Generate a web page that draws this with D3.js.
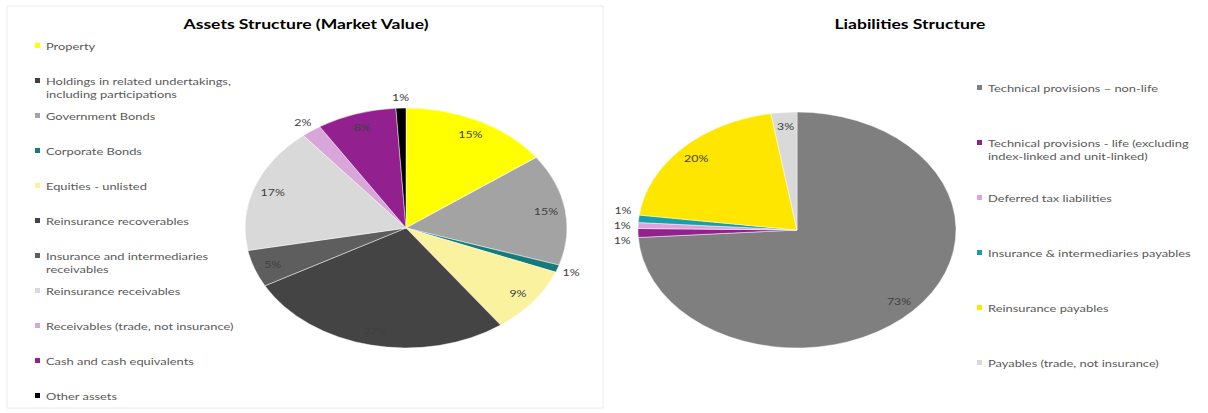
<!DOCTYPE html>
<html>
<head>
<meta charset="utf-8">
<script src="https://cdn.jsdelivr.net/npm/d3@7"></script>
<style>
  html, body { margin: 0; padding: 0; background: #ffffff; }
  svg { display: block; }
</style>
</head>
<body>
<svg id="chart" width="1208" height="413"></svg>
<script>
// ---------- DATA ----------
const assetTitle = "Assets Structure (Market Value)";
const assetCategories = [
  "Property",
  "Holdings in related undertakings,\nincluding participations",
  "Government Bonds",
  "Corporate Bonds",
  "Equities - unlisted",
  "Reinsurance recoverables",
  "Insurance and intermediaries\nreceivables",
  "Reinsurance receivables",
  "Receivables (trade, not insurance)",
  "Cash and cash equivalents",
  "Other assets"
];
const assetValues = [15, 0, 15, 1, 9, 27, 5, 17, 2, 8, 1];
const assetColors = ["#ffff00", "#3f3f3f", "#a3a3a3", "#157a7a", "#fbf2a0", "#444444",
                     "#5e5e5e", "#d9d9d9", "#d8a6d8", "#93208f", "#000000"];

const liabTitle = "Liabilities Structure";
const liabCategories = [
  "Technical provisions \u2013 non-life",
  "Technical provisions - life (excluding\nindex-linked and unit-linked)",
  "Deferred tax liabilities",
  "Insurance & intermediaries payables",
  "Reinsurance payables",
  "Payables (trade, not insurance)"
];
const liabValues = [73.4, 1.2, 0.8, 1.0, 20.2, 2.6];
const liabColors = ["#7f7f7f", "#93208f", "#dda3dd", "#1a9fa6", "#ffe600", "#d9d9d9"];

// ---------- LAYOUT ----------
const SX = 1.3;          // horizontal stretch of the source picture
const FONT = "Lato, 'Open Sans', sans-serif";
const svg = d3.select("#chart");

// faint frame round the left chart
svg.append("rect").attr("x", 7).attr("y", 6).attr("width", 596).attr("height", 402)
  .attr("fill", "none").attr("stroke", "#ececec").attr("stroke-width", 1);

function stretchedText(g, x, y, str) {
  return g.append("text")
    .attr("transform", `translate(${x},${y}) scale(${SX},1)`)
    .text(str);
}

function drawPie(cfg) {
  const { cats, vals, cols, cx, cy, rx, ry, title, titleX, legendX, legendY0, legendStep, insideR, outsideR } = cfg;
  const g = svg.append("g");

  // title
  stretchedText(g, titleX, 29, title)
    .attr("text-anchor", "middle")
    .attr("font-family", FONT).attr("font-weight", "bold")
    .attr("font-size", 13.5).attr("fill", "#000");

  const pie = d3.pie().sort(null).value(d => d);
  const arcs = pie(vals);
  const arc = d3.arc().innerRadius(0).outerRadius(ry);

  const pg = g.append("g").attr("transform", `translate(${cx},${cy}) scale(${rx / ry},1)`);
  pg.selectAll("path").data(arcs).join("path")
    .attr("d", arc)
    .attr("fill", (d, i) => cols[i])
    .attr("stroke", "#ffffff").attr("stroke-width", 0.4);

  // labels
  const inArc = d3.arc().innerRadius(ry * insideR).outerRadius(ry * insideR);
  const outArc = d3.arc().innerRadius(ry * outsideR).outerRadius(ry * outsideR);
  const labels = arcs.filter(a => a.value > 0).map(a => {
    const small = Math.round(a.value) < 3 || (a.endAngle - a.startAngle) < 0.1;
    const c = (small ? outArc : inArc).centroid(a);
    return { x: cx + c[0] * rx / ry, y: cy + c[1], text: Math.round(a.value) + "%", small };
  });
  // spread out outside labels that sit too close vertically on the same side
  const outs = labels.filter(l => l.small);
  for (let pass = 0; pass < 20; pass++) {
    outs.sort((a, b) => a.y - b.y);
    for (let i = 1; i < outs.length; i++) {
      const a = outs[i - 1], b = outs[i];
      if (Math.abs(a.x - b.x) < 30 && b.y - a.y < 15) {
        const d = (15 - (b.y - a.y)) / 2;
        a.y -= d; b.y += d;
      }
    }
  }
  labels.forEach(l => {
    stretchedText(g, l.x, l.y, l.text)
      .attr("text-anchor", "middle").attr("dominant-baseline", "central")
      .attr("font-family", FONT).attr("font-size", 9.5).attr("fill", "#404040");
  });

  // legend
  const ly = d3.scaleLinear().domain([0, 1]).range([legendY0, legendY0 + legendStep]);
  cats.forEach((name, i) => {
    const y = ly(i);
    g.append("rect").attr("x", legendX).attr("y", y - 3).attr("width", 5).attr("height", 5)
      .attr("fill", cols[i]);
    const lines = name.split("\n");
    lines.forEach((line, j) => {
      stretchedText(g, legendX + 11, y + j * 13.5, line)
        .attr("dominant-baseline", "central")
        .attr("font-family", FONT).attr("font-size", 9.9).attr("fill", "#595959");
    });
  });
}

drawPie({
  cats: assetCategories, vals: assetValues, cols: assetColors,
  cx: 406, cy: 228, rx: 161, ry: 120,
  title: assetTitle, titleX: 306,
  legendX: 35, legendY0: 46, legendStep: 35,
  insideR: 0.88, outsideR: 1.09
});

drawPie({
  cats: liabCategories, vals: liabValues, cols: liabColors,
  cx: 797, cy: 230, rx: 159, ry: 118,
  title: liabTitle, titleX: 910,
  legendX: 977, legendY0: 88, legendStep: 55,
  insideR: 0.88, outsideR: 1.1
});
</script>
</body>
</html>
